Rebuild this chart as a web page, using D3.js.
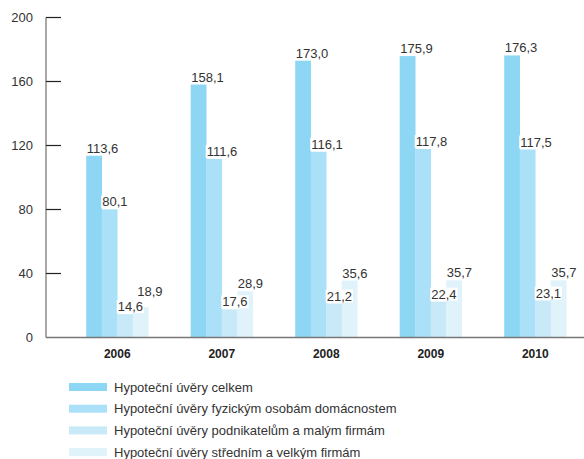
<!DOCTYPE html>
<html><head><meta charset="utf-8">
<script src="https://cdn.jsdelivr.net/npm/d3@7"></script>
<style>
html,body{margin:0;padding:0;background:#fff;}
svg{display:block;font-family:"Liberation Sans",Arial,sans-serif;}
</style></head>
<body>
<svg id="chart" width="584" height="459"></svg>
<script>
const years = ["2006","2007","2008","2009","2010"];
const seriesNames = [
  "Hypoteční úvěry celkem",
  "Hypoteční úvěry fyzickým osobám domácnostem",
  "Hypoteční úvěry podnikatelům a malým firmám",
  "Hypoteční úvěry středním a velkým firmám"
];
const celkem = [113.6, 158.1, 173.0, 175.9, 176.3];
const fyzicke = [80.1, 111.6, 116.1, 117.8, 117.5];
const podnikatele = [14.6, 17.6, 21.2, 22.4, 23.1];
const stredni = [18.9, 28.9, 35.6, 35.7, 35.7];
const yTicks = [0, 40, 80, 120, 160, 200];
const colors = ["#8dd7f5", "#abe0f9", "#c8e9f8", "#e0f2fa"];

const series = [celkem, fyzicke, podnikatele, stredni];
const svg = d3.select("#chart");

const y = d3.scaleLinear().domain([0, 200]).range([337.5, 17.5]);
const x0 = d3.scaleBand().domain(years).range([65, 587.5]).paddingInner(0.406).paddingOuter(0.203);
const x1 = d3.scaleBand().domain(d3.range(series.length)).range([0, x0.bandwidth()]);

// Y axis
const axisX = 46;
svg.append("line").attr("x1", axisX).attr("x2", axisX).attr("y1", y(200)).attr("y2", y(0))
  .attr("stroke", "#6e6e6e").attr("stroke-width", 1.2);
const yt = svg.append("g").selectAll("g").data(yTicks).join("g");
yt.filter(d => d > 0).append("line").attr("x1", axisX).attr("x2", axisX + 15)
  .attr("y1", d => y(d)).attr("y2", d => y(d)).attr("stroke", "#222").attr("stroke-width", 1.2);
yt.append("text").attr("x", 33).attr("y", d => y(d)).attr("dy", "0.35em")
  .attr("text-anchor", "end").attr("font-size", 13).attr("fill", "#333").text(d => d);

// Bars
const barLayer = svg.append("g");
const labelLayer = svg.append("g");
years.forEach((yr, i) => {
  const gx = x0(yr);
  series.forEach((s, k) => {
    barLayer.append("rect").attr("x", gx + x1(k)).attr("width", x1.bandwidth() + 0.3)
      .attr("y", y(s[i])).attr("height", y(0) - y(s[i])).attr("fill", colors[k]);
  });
  let prev = null;
  series.forEach((s, k) => {
    const g = labelLayer.append("g");
    const bg = g.append("rect").attr("fill", "#fff");
    let lx = gx + x1(k) + 0.5;
    let ly = y(s[i]) - 3;
    const t = g.append("text").attr("x", lx).attr("y", ly)
      .attr("font-size", 13).attr("fill", "#333")
      .text(d3.format(".1f")(s[i]).replace(".", ","));
    const w = t.node().getComputedTextLength();
    const h = 10;
    if (prev && lx < prev.x + prev.w && ly > prev.top - 1 && ly - h < prev.bottom + 1) {
      lx += 4;
      ly = prev.top - 5;
      t.attr("x", lx).attr("y", ly);
    }
    bg.attr("x", lx - 1).attr("y", ly - h - 1).attr("width", w + 2).attr("height", h + 3);
    prev = {x: lx, w: w, top: ly - h, bottom: ly};
  });
});

// X axis
svg.append("line").attr("x1", axisX).attr("x2", 584).attr("y1", y(0)).attr("y2", y(0))
  .attr("stroke", "#777").attr("stroke-width", 1.5);
svg.append("g").selectAll("text").data(years).join("text")
  .attr("x", d => x0(d) + x0.bandwidth() / 2).attr("y", 358)
  .attr("text-anchor", "middle").attr("font-size", 12).attr("font-weight", "bold")
  .attr("fill", "#222").text(d => d);

// Legend
const legend = svg.append("g").selectAll("g").data(seriesNames).join("g")
  .attr("transform", (d, i) => `translate(69,${387 + i * 21.7})`);
legend.append("rect").attr("x", 0).attr("y", -4).attr("width", 38).attr("height", 8)
  .attr("fill", (d, i) => colors[i]);
legend.append("text").attr("x", 45).attr("y", 0).attr("dy", "0.35em")
  .attr("font-size", 13).attr("fill", "#333").text(d => d);
</script>
</body></html>
